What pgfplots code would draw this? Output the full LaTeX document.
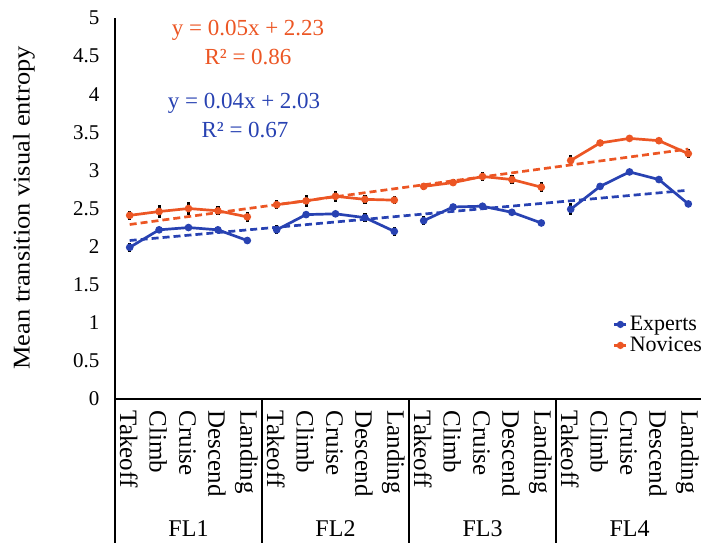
\documentclass[border=0pt]{standalone}
\usepackage{fontspec}
\setmainfont{Liberation Serif}
\usepackage{pgfplots}
\pgfplotsset{compat=1.18}
\definecolor{nov}{RGB}{236,86,36}
\definecolor{expc}{RGB}{40,66,178}
\newcommand{\fs}[1]{\fontsize{#1}{#1}\selectfont}

\begin{document}
\begin{tikzpicture}[x=1pt,y=1pt]
\path[use as bounding box] (0,0) rectangle (701,543);
\begin{axis}[
  at={(115pt,144pt)}, anchor=south west,
  scale only axis, width=588pt, height=381pt,
  xmin=0.5, xmax=20.5, ymin=0, ymax=5,
  axis x line=bottom, axis y line=left,
  axis line style={-, black, line width=1.4pt},
  major tick length=0pt,
  ytick={0,0.5,...,5},
  /pgf/number format/assume math mode=true,
  yticklabel style={font=\fs{21}, xshift=-12pt},
  xtick={1,...,20},
  xticklabels={Takeoff,Climb,Cruise,Descend,Landing,Takeoff,Climb,Cruise,Descend,Landing,Takeoff,Climb,Cruise,Descend,Landing,Takeoff,Climb,Cruise,Descend,Landing},
  xticklabel style={rotate=-90, anchor=west, font=\fs{25}, yshift=-1pt, xshift=8pt},
  clip=false,
  legend style={draw=none, fill=none, at={(0.845,0.225)}, anchor=north west, font=\fs{22}, inner sep=1pt, row sep=1pt},
  legend cell align=left,
  legend image code/.code={\draw[#1] (0pt,0pt) -- (12pt,0pt); \fill[#1] (6pt,0pt) circle (2.2pt);},
  error bars/y dir=both, error bars/y explicit,
  error bars/error mark=none,
  error bars/error bar style={black, line width=3.2pt},
]
% Experts FL1
\addplot[color=expc, line width=2.7pt, mark=*, mark size=2.4pt] coordinates {(1,1.99)+-(0,0.06) (2,2.22)+-(0,0.04) (3,2.25)+-(0,0.04) (4,2.22)+-(0,0.04) (5,2.08)+-(0,0.05)};
\addlegendentry{Experts}
% Novices FL1
\addplot[color=nov, line width=2.7pt, mark=*, mark size=2.4pt] coordinates {(1,2.41)+-(0,0.06) (2,2.46)+-(0,0.09) (3,2.50)+-(0,0.09) (4,2.47)+-(0,0.06) (5,2.39)+-(0,0.07)};
\addlegendentry{Novices}
% Experts FL2-FL4
\addplot[forget plot, color=expc, line width=2.7pt, mark=*, mark size=2.4pt] coordinates {(6,2.22)+-(0,0.06) (7,2.42)+-(0,0.04) (8,2.43)+-(0,0.04) (9,2.38)+-(0,0.06) (10,2.20)+-(0,0.06)};
\addplot[forget plot, color=expc, line width=2.7pt, mark=*, mark size=2.4pt] coordinates {(11,2.34)+-(0,0.06) (12,2.52)+-(0,0.04) (13,2.53)+-(0,0.03) (14,2.45)+-(0,0.04) (15,2.31)+-(0,0.04)};
\addplot[forget plot, color=expc, line width=2.7pt, mark=*, mark size=2.4pt] coordinates {(16,2.49)+-(0,0.08) (17,2.79)+-(0,0.04) (18,2.98)+-(0,0.03) (19,2.88)+-(0,0.03) (20,2.56)+-(0,0.04)};
% Novices FL2-FL4
\addplot[forget plot, color=nov, line width=2.7pt, mark=*, mark size=2.4pt] coordinates {(6,2.55)+-(0,0.06) (7,2.60)+-(0,0.08) (8,2.66)+-(0,0.07) (9,2.62)+-(0,0.06) (10,2.61)+-(0,0.05)};
\addplot[forget plot, color=nov, line width=2.7pt, mark=*, mark size=2.4pt] coordinates {(11,2.79)+-(0,0.05) (12,2.84)+-(0,0.05) (13,2.92)+-(0,0.06) (14,2.88)+-(0,0.06) (15,2.78)+-(0,0.07)};
\addplot[forget plot, color=nov, line width=2.7pt, mark=*, mark size=2.4pt] coordinates {(16,3.13)+-(0,0.07) (17,3.36)+-(0,0.04) (18,3.42)+-(0,0.03) (19,3.39)+-(0,0.03) (20,3.22)+-(0,0.06)};
% trend lines
\addplot[forget plot, color=nov, line width=2.7pt, dash pattern=on 7pt off 4pt, no marks] coordinates {(1,2.29) (20,3.28)};
\addplot[forget plot, color=expc, line width=2.7pt, dash pattern=on 7pt off 4pt, no marks] coordinates {(1,2.08) (20,2.74)};
% category separators
\foreach \s in {0.5,5.5,10.5,15.5,20.5}{
  \edef\tmp{\noexpand\draw[black, line width=1.4pt] (axis cs:\s,0) -- ++(0pt,-146pt);}\tmp
}
\node[font=\fs{24}] at (axis cs:3,0) [yshift=-130pt] {FL1};
\node[font=\fs{24}] at (axis cs:8,0) [yshift=-130pt] {FL2};
\node[font=\fs{24}] at (axis cs:13,0) [yshift=-130pt] {FL3};
\node[font=\fs{24}] at (axis cs:18,0) [yshift=-130pt] {FL4};
\end{axis}
\node[rotate=90, font=\fs{24}] at (24,335) {\scalebox{1.1}[1]{Mean transition visual entropy}};
\node[font=\fs{23}, text=nov] at (248,513) {y = 0.05x + 2.23};
\node[font=\fs{23}, text=nov] at (248,486) {R² = 0.86};
\node[font=\fs{23}, text=expc] at (244,440) {y = 0.04x + 2.03};
\node[font=\fs{23}, text=expc] at (245,413) {R² = 0.67};
\end{tikzpicture}
\end{document}
